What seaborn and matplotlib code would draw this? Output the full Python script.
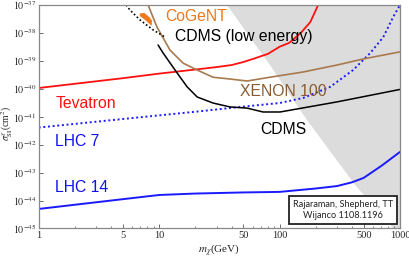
import numpy as np
import pandas as pd
import matplotlib
matplotlib.use("Agg")
import matplotlib.pyplot as plt
import seaborn as sns

# ---------------- data ----------------
tev_m = [1, 5, 10, 20, 30, 40, 50, 60, 80, 100, 120, 150, 180, 209]
tev_s = [1.07e-40, 2.4e-40, 3.5e-40, 4.9e-40, 6.0e-40, 7.1e-40, 9.1e-40, 1.17e-39,
         1.78e-39, 3.2e-39, 4.4e-39, 1.0e-38, 2.45e-38, 1.0e-37]

lhc7_m = [1, 5, 10, 20, 50, 100, 157, 263, 408, 565, 725, 877, 1000]
lhc7_s = [4.1e-42, 8.3e-42, 1.12e-41, 1.51e-41, 2.3e-41, 3.1e-41, 4.7e-41, 1.17e-40,
          4.7e-40, 1.9e-39, 7.0e-39, 3.7e-38, 1.0e-37]

lhc14_m = [1, 5, 10, 20, 50, 100, 200, 300, 400, 500, 700, 1000]
lhc14_s = [5.0e-45, 1.12e-44, 1.58e-44, 1.78e-44, 1.95e-44, 2.04e-44, 2.7e-44,
           3.3e-44, 4.5e-44, 6.5e-44, 1.74e-43, 5.5e-43]

xenon_m = [8.1, 9.6, 12.3, 15.8, 20.7, 28.0, 38.8, 53.7, 83.4, 157, 300, 494, 1000]
xenon_s = [1.0e-37, 1.62e-38, 2.45e-39, 8.3e-40, 4.7e-40, 2.6e-40, 2.24e-40, 1.9e-40,
           2.6e-40, 4.0e-40, 7.1e-40, 1.17e-39, 2.1e-39]

cdms_m = [9.8, 10.8, 14.1, 17.1, 20.7, 28.0, 38.8, 53.7, 72.9, 101, 300, 1000]
cdms_s = [3.7e-39, 1.9e-39, 3.7e-40, 1.17e-40, 5.1e-41, 3.1e-41, 2.24e-41, 2.04e-41,
          1.48e-41, 1.48e-41, 3.4e-41, 9.5e-41]

cdmsle_m = [5.31, 5.73, 6.95, 8.9, 11.2]
cdmsle_s = [1.0e-37, 6.6e-38, 2.9e-38, 1.29e-38, 7.1e-39]

cogent_m = [6.95, 7.5, 8.2, 8.7, 8.6, 8.1, 7.4, 6.95]
cogent_s = [4.8e-38, 5.1e-38, 3.7e-38, 2.7e-38, 1.9e-38, 2.45e-38, 3.4e-38, 4.1e-38]

gray_m = [36.6, 83.2, 169, 424, 877, 1000, 1000]
gray_s = [1.0e-37, 7.1e-40, 7.6e-42, 3.6e-44, 1.0e-45, 1.0e-45, 1.0e-37]

x_ticks = [1, 5, 10, 50, 100, 500, 1000]
x_ticklabels = ["1", "5", "10", "50", "100", "500", "1000"]
y_exps = [-45, -44, -43, -42, -41, -40, -39, -38, -37]

labels = [
    ("Tevatron", 1.37, 10**-40.53, "#ff1010"),
    ("LHC 7", 1.37, 10**-41.87, "#1010ee"),
    ("LHC 14", 1.37, 10**-43.53, "#1010ee"),
    ("CoGeNT", 11.2, 10**-37.41, "#f07818"),
    ("CDMS (low energy)", 13.6, 10**-38.13, "black"),
    ("XENON 100", 47.0, 10**-40.08, "#8a5a30"),
    ("CDMS", 68.9, 10**-41.44, "black"),
]

# ---------------- figure ----------------
sns.set_style("ticks")
plt.rcParams["mathtext.fontset"] = "stix"
plt.rcParams["font.family"] = ["Liberation Sans", "DejaVu Sans"]

fig = plt.figure(figsize=(4.09, 2.57), dpi=100)
ax = fig.add_axes([0.0946, 0.111, 0.978 - 0.0946, 0.9805 - 0.111])
ax.set_xscale("log")
ax.set_yscale("log")
ax.set_xlim(1, 1000)
ax.set_ylim(1e-45, 1e-37)

ax.fill(gray_m, gray_s, color="#dcdcdc", lw=0, zorder=0)

def line(m, s, color, lw, ls="-"):
    df = pd.DataFrame({"m": m, "s": s})
    sns.lineplot(data=df, x="m", y="s", ax=ax, color=color, lw=lw, ls=ls,
                 estimator=None, sort=False)

line(tev_m, tev_s, "#ff1010", 1.3)
line(lhc7_m, lhc7_s, "#1a1aff", 1.4, (0, (1, 1.4)))
line(lhc14_m, lhc14_s, "#1a1aff", 1.4)
line(xenon_m, xenon_s, "#a87a4e", 1.2)
line(cdms_m, cdms_s, "black", 1.1)
line(cdmsle_m, cdmsle_s, "black", 1.2, (0, (1, 1.4)))
ax.fill(cogent_m, cogent_s, color="#f07818", lw=0.5, ec="#f07818")

for txt, x, y, c in labels:
    ax.text(x, y, txt, color=c, fontsize=11.3, va="center", ha="left",
            family=["Liberation Sans", "DejaVu Sans"])

ax.text(0.842, 0.083, "Rajaraman, Shepherd, TT\nWijanco 1108.1196",
        transform=ax.transAxes, ha="center", va="center", fontsize=6.6,
        family=["Lato", "DejaVu Sans"], linespacing=1.3, color="#222222",
        bbox=dict(boxstyle="square,pad=0.45", fc="white", ec="#222222", lw=1.3))

ax.set_xticks(x_ticks)
ax.set_xticklabels(x_ticklabels, family=["Liberation Serif"], fontsize=7.5)
ax.set_yticks([10.0**e for e in y_exps])
ax.set_yticklabels([r"$10^{%d}$" % e for e in y_exps], fontsize=7.2)
ax.tick_params(direction="in", length=3, width=0.6, color="#555555", pad=2)
ax.tick_params(axis="y", pad=1.5)
ax.tick_params(which="minor", direction="in", length=1.8, width=0.5, color="#555555")
ax.yaxis.set_minor_locator(matplotlib.ticker.NullLocator())

for sp in ax.spines.values():
    sp.set_color("#888888")
    sp.set_linewidth(0.9)

ax.set_xlabel(r"$m_\chi$(GeV)", fontsize=8, family=["Liberation Serif"])
ax.set_ylabel(r"$\sigma^{\chi}_{\rm SI}$(cm$^2$)", fontsize=7, family=["Liberation Serif"])
ax.xaxis.set_label_coords(0.5, -0.062)
ax.yaxis.set_label_coords(-0.066, 0.47)

fig.savefig("out.png", dpi=100)
